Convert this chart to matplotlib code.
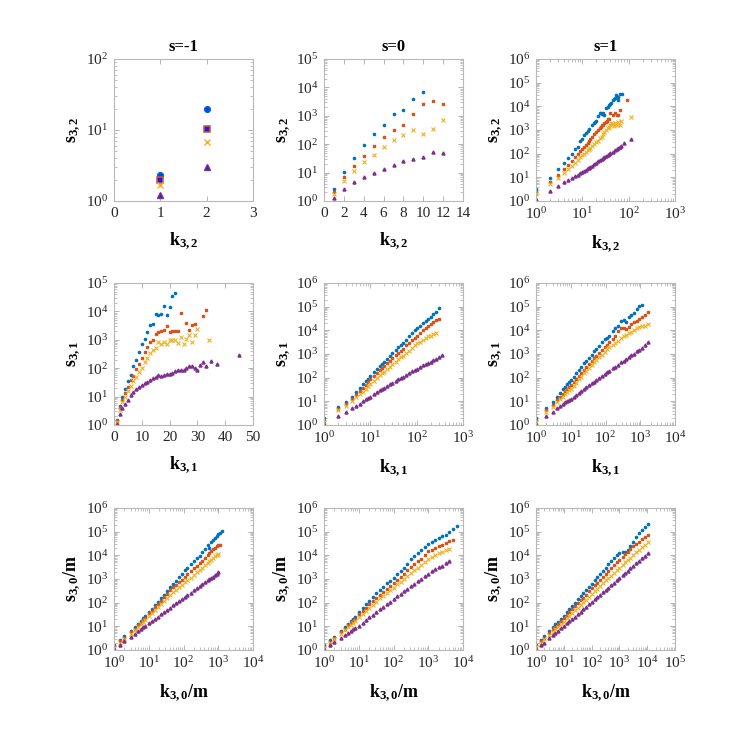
import numpy as np
import matplotlib
matplotlib.use("Agg")
import matplotlib.pyplot as plt
from matplotlib.ticker import FixedLocator, LogLocator, NullFormatter, LogFormatterSciNotation

plt.rcParams['font.family'] = 'serif'
plt.rcParams['font.serif'] = ['Liberation Serif', 'DejaVu Serif']
plt.rcParams['mathtext.fontset'] = 'custom'
plt.rcParams['mathtext.rm'] = 'Liberation Serif'
plt.rcParams['mathtext.it'] = 'Liberation Serif:italic'
plt.rcParams['mathtext.bf'] = 'Liberation Serif:bold'

# ---- data ----
titles = ['s=-1', 's=0', 's=1']
ylabels = [r'$\mathbf{s_{3,2}}$', r'$\mathbf{s_{3,1}}$', r'$\mathbf{s_{3,0}/m}$']
xlabels = [r'$\mathbf{k_{3,2}}$', r'$\mathbf{k_{3,1}}$', r'$\mathbf{k_{3,0}/m}$']

# row 1, s=-1
k32_sm1 = [1, 2]
s32_sm1_a = [2.3, 20]
s32_sm1_b = [1.95, 10.3]
s32_sm1_c = [1.7, 6.8]
s32_sm1_d = [1.2, 3.0]

# row 1, s=0
k32_s0 = [1, 2, 3, 4, 5, 6, 7, 8, 9, 10, 11, 12]
s32_s0_a = [2.6, 10.3, 34, 92, 225, 490, 1180, 1620, 3900, 6900]
s32_s0_b = [2.1, 7, 16.7, 39, 87, 177, 310, 490, 1200, 2650, 3300, 2650]
s32_s0_c = [1.77, 5.1, 11.1, 23, 42, 80, 142, 213, 310, 225, 340, 690]
s32_s0_d = [1.24, 2.7, 4.7, 7.2, 9.7, 13.5, 18, 25, 30, 35, 55, 51]

# row 1, s=1
k32_s1_a = [1, 2, 3, 4, 5, 6, 7, 8, 9, 10, 11, 12, 13, 14, 16, 18, 19, 20, 22, 24, 25, 26, 28, 30,
            32, 35, 38, 40, 42, 45, 48, 50, 52, 55, 58, 60, 65, 72]
s32_s1_a = [3.2, 9.7, 22, 39, 63, 100, 150, 200, 350, 420, 600, 780, 900, 1050, 1600, 2000, 2200, 2400,
            3800, 5000, 5300, 4600, 5000, 4300, 8500, 9000, 11000, 12500, 14000, 18000, 20000, 22000,
            30000, 26000, 18000, 24000, 33000, 33000]
k32_s1_b = [1, 2, 3, 4, 5, 6, 7, 8, 9, 10, 11, 12, 13, 14, 15, 16, 18, 20, 22, 24, 25, 26, 28, 30,
            32, 34, 36, 38, 40, 45, 50, 55, 60, 65, 93]
s32_s1_b = [2.5, 6.5, 12, 22, 33, 50, 70, 100, 130, 160, 200, 240, 290, 330, 400, 500, 650, 800, 1000,
            1200, 1400, 1600, 1700, 2000, 2100, 2500, 2800, 3000, 5000, 4500, 5000, 4200, 4500, 7000, 18000]
k32_s1_c = [1, 2, 3, 4, 5, 6, 7, 8, 9, 10, 11, 12, 13, 14, 15, 16, 18, 20, 22, 24, 26, 28, 30, 32,
            35, 38, 40, 42, 45, 48, 50, 55, 60, 65, 70, 114]
s32_s1_c = [1.9, 5.0, 9.5, 16, 22, 30, 42, 55, 70, 85, 100, 120, 140, 160, 180, 210, 260, 300, 360,
            450, 500, 650, 800, 1000, 1200, 1400, 1700, 2000, 1800, 1500, 2000, 1700, 2100, 1600, 2300, 3600]
k32_s1_d = [1, 2, 3, 4, 5, 6, 7, 8, 9, 10, 11, 12, 13, 14, 15, 16, 18, 20, 22, 24, 26, 28, 30, 32,
            35, 38, 40, 45, 50, 55, 60, 65, 70, 80, 114]
s32_s1_d = [1.2, 2.6, 4.2, 6.3, 7.7, 9.5, 11, 13, 15, 17, 19, 21, 24, 26, 28, 31, 36, 42, 47, 52, 58,
            64, 70, 78, 86, 100, 108, 120, 140, 150, 170, 190, 220, 280, 400]

# row 2, s=-1
k31_sm1_a = list(range(1, 23))
s31_sm1_a = [1.5, 4.5, 9.5, 18, 35, 58, 115, 195, 370, 690, 1050, 1950, 3200, 3500, 8300, 7200, 8300,
             15500, 7200, 14500, 36000, 46000]
k31_sm1_b = list(range(1, 25)) + [26, 27, 28, 29, 32, 33]
s31_sm1_b = [1.4, 4, 7.8, 13, 21, 37, 55, 90, 142, 230, 370, 550, 830, 1020, 1600, 1950, 2100, 2300,
             2950, 1950, 2100, 2100, 2100, 8700, 4000, 2300, 3300, 3500, 7000, 11500]
k31_sm1_c = list(range(1, 31)) + [34]
s31_sm1_c = [1.3, 3.4, 6.3, 9.5, 16, 24, 35, 51, 76, 102, 172, 230, 350, 420, 510, 830, 690, 830, 690,
             1000, 1000, 980, 760, 1250, 690, 1070, 1420, 870, 1420, 2450, 950]
k31_sm1_d = list(range(1, 34)) + [35, 37, 45]
s31_sm1_d = [1.1, 2.4, 3.9, 5.5, 7.6, 11, 14, 18, 21, 26, 30, 34, 39, 46, 48, 58, 55, 60, 63, 63, 70,
             78, 83, 85, 87, 102, 120, 122, 102, 87, 130, 160, 122, 177, 142, 295]

# row 2, s=0
k31_s0 = [1, 2, 3, 4, 5, 6, 7, 8, 9, 10, 12, 14, 16, 18, 20, 23, 26, 30, 35, 40, 45, 50, 60, 70, 80,
          90, 100, 120, 140, 160, 180, 200, 230, 260, 300, 345]
s31_s0_a = [2.0, 5.7, 9.5, 16, 26, 38, 52, 70, 90, 115, 170, 230, 300, 380, 470, 620, 800, 1100, 1500,
            1900, 2400, 2900, 4000, 6000, 8000, 10000, 12000, 16000, 20000, 25000, 30000, 36000, 48000,
            62000, 90000]
s31_s0_b = [1.5, 4.8, 7.4, 12, 19, 27, 37, 49, 65, 85, 120, 160, 205, 255, 310, 400, 500, 660, 880,
            1100, 1400, 1700, 2300, 3000, 3900, 4800, 5800, 7800, 10000, 12500, 15000, 18000, 22000,
            27000, 31000]
s31_s0_c = [1.3, 4.1, 6.1, 10, 15, 20, 26, 34, 44, 54, 75, 98, 125, 150, 180, 230, 290, 370, 480, 600,
            720, 850, 1100, 1400, 1800, 2300, 2800, 3300, 4000, 4700, 5500, 6000, 7000, 7800]
s31_s0_d = [1.1, 2.3, 3.6, 5, 6.5, 8, 10, 12, 14, 16, 20, 25, 29, 34, 38, 45, 52, 62, 75, 88, 100, 112,
            135, 160, 185, 210, 235, 285, 330, 380, 430, 480, 560, 640, 760, 920]

# row 2, s=1
k31_s1 = [1, 2, 3, 4, 5, 6, 7, 8, 9, 10, 12, 14, 17, 20, 24, 28, 33, 40, 47, 55, 65, 80, 95, 110, 130,
          160, 190, 230, 280, 330, 400, 470, 550, 650, 800, 950, 1150, 1400, 1700]
s31_s1_a = [2.0, 5.1, 9, 15, 23, 32, 42, 52, 65, 80, 110, 150, 220, 290, 400, 520, 700, 950, 1300, 1700,
            2200, 3300, 4300, 4700, 6000, 9000, 12000, 15000, 25000, 28000, 22000, 35000, 45000, 55000,
            80000, 110000, 120000]
s31_s1_b = [1.6, 4.2, 7, 11, 16, 21, 27, 33, 40, 47, 64, 85, 120, 160, 220, 290, 380, 520, 680, 850,
            1100, 1500, 2000, 2500, 3300, 4500, 6000, 9000, 12000, 13000, 11000, 14000, 18000, 22000,
            26000, 30000, 36000, 45000, 59000]
s31_s1_c = [1.4, 3.5, 6, 9, 12, 16, 20, 25, 29, 34, 46, 60, 85, 110, 150, 200, 260, 350, 450, 560, 720,
            950, 1250, 1550, 1900, 2400, 3000, 3700, 4600, 5500, 6500, 7500, 8500, 10000, 12000, 13500,
            15000, 16000, 19000]
s31_s1_d = [1.1, 2.3, 3.6, 5, 6.3, 7.6, 9, 10.5, 11.8, 13, 16, 19, 23, 28, 34, 40, 47, 57, 68, 82, 98,
            120, 145, 170, 200, 245, 295, 360, 440, 520, 630, 740, 870, 1040, 1280, 1530, 1870, 2500, 3200]

# row 3, s=-1
k30_sm1 = [1, 1.5, 2, 3, 4, 5, 6, 7, 8, 10, 12, 15, 18, 22, 27, 33, 40, 50, 60, 75, 90, 110, 130, 160,
           200, 240, 290, 350, 420, 500, 560, 620, 700, 800, 900, 1000, 1100, 1260]
s30_sm1_a = [1.6, 2.7, 3.8, 6.5, 9.5, 13, 17, 22, 27, 41, 55, 80, 110, 150, 220, 320, 450, 620, 850,
             1200, 1600, 2300, 3000, 4300, 6000, 7500, 9500, 14000, 18000, 28000, 20000, 35000, 45000,
             55000, 65000, 76000, 90000, 112000]
s30_sm1_b = [1.3, 2.3, 3.2, 5.5, 8, 11, 14, 18, 22, 35, 46, 65, 88, 120, 170, 240, 330, 450, 580, 780,
             950, 1250, 1600, 2100, 2900, 3600, 4600, 6000, 8000, 10000, 12000, 15000, 18000, 20000,
             26000, 27000, 28000]
s30_sm1_c = [1.2, 2.0, 2.8, 4.8, 7, 9.5, 12, 15, 19, 28, 36, 50, 65, 85, 115, 160, 210, 280, 350, 460,
             580, 750, 900, 1150, 1500, 1900, 2400, 3000, 3800, 4800, 5500, 6500, 7500, 9000, 10500, 11700]
s30_sm1_d = [1.1, 1.7, 2.3, 3.6, 4.9, 6.3, 7.6, 9, 10.5, 14, 17, 21, 26, 32, 40, 50, 62, 78, 95, 120,
             145, 180, 215, 265, 340, 410, 500, 610, 740, 890, 1000, 1120, 1270, 1460, 1650, 1900]

# row 3, s=0
k30_s0 = [1, 1.5, 2, 3, 4, 5, 6, 7, 8, 10, 13, 16, 20, 25, 32, 40, 50, 63, 80, 100, 130, 160, 200, 250,
          320, 400, 500, 630, 800, 1000, 1300, 1600, 2000, 2500, 3200, 4000, 5000, 6600]
s30_s0_a = [1.6, 2.6, 3.7, 6.5, 9.5, 13, 17, 21, 26, 40, 60, 85, 120, 170, 250, 350, 480, 650, 850, 1150,
            1600, 2200, 3000, 4500, 7000, 9000, 12000, 17000, 22000, 29000, 38000, 45000, 55000, 65000,
            75000, 100000, 130000, 170000]
s30_s0_b = [1.3, 2.2, 3.1, 5.5, 8, 11, 14, 17, 21, 32, 46, 62, 85, 115, 160, 220, 290, 380, 520, 700,
            950, 1250, 1700, 2300, 3200, 4200, 5500, 7000, 10000, 15000, 17000, 20000, 24000, 28000,
            34000, 40000, 44000]
s30_s0_c = [1.2, 2.0, 2.8, 4.7, 6.8, 9, 11, 14, 17, 24, 34, 45, 60, 80, 110, 150, 195, 260, 340, 435,
            600, 780, 1000, 1350, 1800, 2400, 3000, 3900, 5200, 6800, 8500, 10000, 12000, 14000, 16500,
            19000]
s30_s0_d = [1.05, 1.6, 2.1, 3.1, 4.1, 5.2, 6.3, 7.4, 8.5, 10.5, 14.5, 18.5, 24, 31, 41, 52, 66, 85, 110,
            140, 185, 235, 300, 380, 500, 640, 810, 1030, 1320, 1700, 2150, 2600, 3100, 3700, 4600, 5700]

# row 3, s=1
k30_s1 = [1, 1.5, 2, 3, 4, 5, 6, 8, 10, 13, 16, 20, 25, 32, 40, 50, 63, 80, 100, 130, 160, 200, 250,
          320, 400, 500, 630, 800, 1000, 1300, 1600, 2000, 2500, 3200, 4000, 5000, 6300, 8000, 10700]
s30_s1_a = [1.7, 2.6, 3.8, 6.3, 9, 12, 15, 21, 28, 40, 53, 72, 100, 140, 190, 260, 360, 480, 620, 880,
            1200, 1600, 2200, 3000, 4200, 5500, 7500, 10000, 12500, 14500, 13500, 17000, 25000, 38000,
            60000, 90000, 120000, 160000, 220000]
s30_s1_b = [1.5, 2.3, 3.3, 5.3, 7.5, 9.5, 12, 16.5, 22, 31, 40, 53, 70, 95, 125, 165, 220, 300, 400, 540,
            700, 920, 1250, 1700, 2200, 2900, 3800, 5000, 6500, 8500, 11000, 14000, 18000, 24000, 30000,
            38000, 48000, 58000, 75000]
s30_s1_c = [1.3, 2.0, 2.8, 4.4, 6.0, 7.6, 9.2, 12.5, 16, 22, 28, 36, 47, 62, 80, 105, 135, 180, 230, 310,
            390, 500, 650, 870, 1100, 1400, 1800, 2400, 3000, 4000, 5000, 6200, 8000, 10500, 13500,
            17000, 22000, 28000, 36000]
s30_s1_d = [1.05, 1.55, 2.05, 3.1, 4.1, 5.1, 6.2, 8.3, 10.5, 13.5, 17, 21, 26, 33, 42, 53, 67, 85, 106,
            140, 170, 215, 270, 345, 430, 540, 690, 880, 1100, 1450, 1800, 2250, 2850, 3700, 4600, 5800,
            7400, 9400, 12000]

colors = ['#0072BD', '#D95319', '#EDB120', '#7E2F8E']

# (xs, ys) per panel, row by row
panels = [
    [(k32_sm1, s32_sm1_a), (k32_sm1, s32_sm1_b), (k32_sm1, s32_sm1_c), (k32_sm1, s32_sm1_d)],
    [(k32_s0, s32_s0_a), (k32_s0, s32_s0_b), (k32_s0, s32_s0_c), (k32_s0, s32_s0_d)],
    [(k32_s1_a, s32_s1_a), (k32_s1_b, s32_s1_b), (k32_s1_c, s32_s1_c), (k32_s1_d, s32_s1_d)],
    [(k31_sm1_a, s31_sm1_a), (k31_sm1_b, s31_sm1_b), (k31_sm1_c, s31_sm1_c), (k31_sm1_d, s31_sm1_d)],
    [(k31_s0, s31_s0_a), (k31_s0, s31_s0_b), (k31_s0, s31_s0_c), (k31_s0, s31_s0_d)],
    [(k31_s1, s31_s1_a), (k31_s1, s31_s1_b), (k31_s1, s31_s1_c), (k31_s1, s31_s1_d)],
    [(k30_sm1, s30_sm1_a), (k30_sm1, s30_sm1_b), (k30_sm1, s30_sm1_c), (k30_sm1, s30_sm1_d)],
    [(k30_s0, s30_s0_a), (k30_s0, s30_s0_b), (k30_s0, s30_s0_c), (k30_s0, s30_s0_d)],
    [(k30_s1, s30_s1_a), (k30_s1, s30_s1_b), (k30_s1, s30_s1_c), (k30_s1, s30_s1_d)],
]

# x axis: tuple -> linear (max, step), int -> log up to that decade
x_axes = [(3, 1), (14, 2), 3, (50, 10), 3, 4, 4, 4, 5]
y_top = [2, 5, 6, 5, 6, 6, 6, 6, 6]

fig = plt.figure(figsize=(7.47, 7.47), dpi=100)

lefts = [114, 324, 536]
tops = [59, 283, 508]
W, H = 139, 142

small_marks = [dict(marker='.', ms=3.2), dict(marker='s', ms=1.6), dict(marker='x', ms=2.4, mew=0.8),
               dict(marker='^', ms=2.2)]
big_marks = [dict(marker='o', ms=4.2, mfc='#0a3cff'), dict(marker='s', ms=4, mfc='#1a1aff', mew=1.1),
             dict(marker='x', ms=4.2, mew=1.0), dict(marker='^', ms=4.6, mfc='#3a1fc8', mew=1.0)]

for idx, series in enumerate(panels):
    r, c = divmod(idx, 3)
    ax = fig.add_axes([lefts[c] / 747, 1 - (tops[r] + H) / 747, W / 747, H / 747])
    marks = big_marks if idx == 0 else small_marks
    for (xs, ys), col, mk in zip(series, colors, marks):
        ax.plot(xs[:len(ys)], ys, linestyle='none', color=col, **mk)

    ax.set_yscale('log')
    ax.set_ylim(1, 10 ** y_top[idx])
    ax.yaxis.set_major_locator(FixedLocator([10.0 ** p for p in range(y_top[idx] + 1)]))
    ax.yaxis.set_major_formatter(LogFormatterSciNotation())
    ax.yaxis.set_minor_locator(LogLocator(base=10, subs=np.arange(2, 10), numticks=100))
    ax.yaxis.set_minor_formatter(NullFormatter())

    xa = x_axes[idx]
    if isinstance(xa, tuple):
        ax.set_xlim(0, xa[0])
        ax.set_xticks(np.arange(0, xa[0] + 1, xa[1]))
    else:
        ax.set_xscale('log')
        ax.set_xlim(1, 10 ** xa)
        ax.xaxis.set_major_locator(FixedLocator([10.0 ** p for p in range(xa + 1)]))
        ax.xaxis.set_major_formatter(LogFormatterSciNotation())
        ax.xaxis.set_minor_locator(LogLocator(base=10, subs=np.arange(2, 10), numticks=100))
        ax.xaxis.set_minor_formatter(NullFormatter())

    for sp in ax.spines.values():
        sp.set_color('#b8b8b8')
        sp.set_linewidth(0.8)
    ax.tick_params(which='both', direction='in', top=True, right=True, color='#a8a8a8',
                   labelcolor='#262626', labelsize=11, pad=4)
    ax.tick_params(which='major', length=3.5, width=0.6)
    ax.tick_params(which='minor', length=2, width=0.5)

    ax.set_ylabel(ylabels[r], fontsize=13, labelpad=2)
    ax.set_xlabel(xlabels[r], fontsize=13, labelpad=8)
    if r == 0:
        ax.set_title(titles[c], fontsize=12, fontweight='bold', pad=6)

fig.savefig('out.png', dpi=100)
